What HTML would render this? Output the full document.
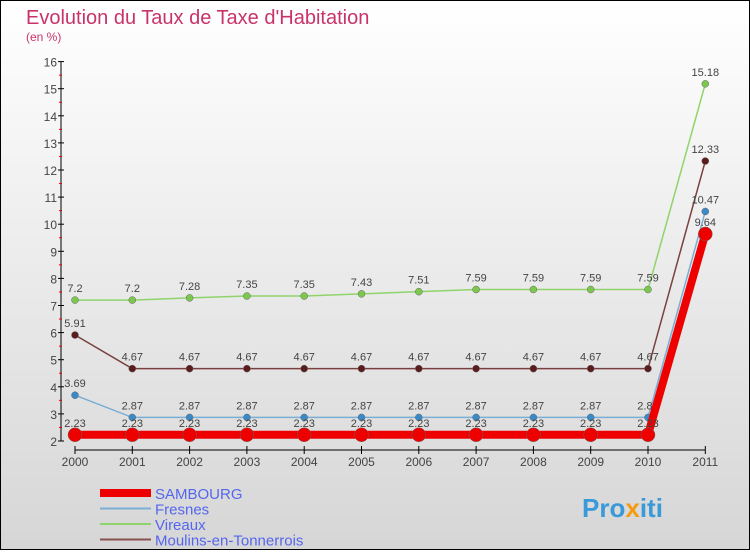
<!DOCTYPE html>
<html><head><meta charset="utf-8"><style>
body{margin:0}
#c{width:750px;height:550px;position:relative;font-family:"Liberation Sans",sans-serif;}
</style></head><body>
<div id="c">
<svg width="750" height="550" xmlns="http://www.w3.org/2000/svg" id="svg">
<defs><linearGradient id="bg" x1="0" y1="0" x2="0" y2="1"><stop offset="0" stop-color="#ffffff"/><stop offset="1" stop-color="#d6d6d6"/></linearGradient></defs>
<rect x="0.5" y="0.5" width="749" height="549" fill="url(#bg)" stroke="#000"/>
<text x="26" y="24" font-size="20" fill="#c8336a">Evolution du Taux de Taxe d'Habitation</text>
<text x="26" y="41" font-size="12" fill="#c8336a">(en %)</text>
<g id="axes"></g><g id="series"></g><g id="legend"></g>
<text x="582" y="517" font-size="26" font-weight="bold" fill="#3a9ad9">Pro<tspan fill="#f39c12">x</tspan>iti</text>
</svg>
</div>
<script>
const years=["2000","2001","2002","2003","2004","2005","2006","2007","2008","2009","2010","2011"];
const yTicks=[2,3,4,5,6,7,8,9,10,11,12,13,14,15,16];
const sambourg=[2.23,2.23,2.23,2.23,2.23,2.23,2.23,2.23,2.23,2.23,2.23,9.64];
const fresnes=[3.69,2.87,2.87,2.87,2.87,2.87,2.87,2.87,2.87,2.87,2.87,10.47];
const vireaux=[7.2,7.2,7.28,7.35,7.35,7.43,7.51,7.59,7.59,7.59,7.59,15.18];
const moulins=[5.91,4.67,4.67,4.67,4.67,4.67,4.67,4.67,4.67,4.67,4.67,12.33];
const NS="http://www.w3.org/2000/svg";
const X=i=>75+i*57.3, Y=v=>441-(v-2)*27.1;
function mk(t,a,p){const e=document.createElementNS(NS,t);for(const k in a)e.setAttribute(k,a[k]);p.appendChild(e);return e;}
const ax=document.getElementById('axes');
let yl=mk('line',{x1:61,y1:Y(16),x2:61,y2:Y(2),stroke:'#000'},ax);


yTicks.forEach(v=>{
 mk('line',{x1:58,y1:Y(v),x2:64,y2:Y(v),stroke:'#000'},ax);
 if(v<16)mk('line',{x1:59,y1:Y(v+0.5),x2:62,y2:Y(v+0.5),stroke:'#e00'},ax);
 const t=mk('text',{x:57,y:Y(v)+5,'text-anchor':'end','font-size':12,fill:'#444'},ax);t.textContent=v;
 
 
});
let xl=mk('line',{x1:X(0),y1:450,x2:X(11),y2:450,stroke:'#000'},ax);


years.forEach((y,i)=>{
 mk('line',{x1:X(i),y1:446,x2:X(i),y2:454,stroke:'#000'},ax);
 const t=mk('text',{x:X(i),y:466,'text-anchor':'middle','font-size':12,fill:'#444'},ax);t.textContent=y;
 
 
});
const sg=document.getElementById('series');
function series(data,color,dot,w,r,name){
 const g=mk('g',{},sg);
 
 
 mk('polyline',{points:data.map((v,i)=>X(i)+','+Y(v)).join(' '),fill:'none',stroke:color,'stroke-width':w},g);
 data.forEach((v,i)=>{
  const c=mk('circle',{cx:X(i),cy:Y(v),r:r,fill:dot,stroke:'#666','stroke-width':0.5},g);
  
  
  const t=mk('text',{x:X(i),y:Y(v)-8,'text-anchor':'middle','font-size':11,fill:'#444'},g);t.textContent=v;
  
  
 });
}
series(vireaux,'#8fd46a','#7cc84e',1.5,3.5,'vireaux');
series(moulins,'#7a4040','#5a1c1c',1.5,3.5,'moulins');
series(fresnes,'#7aaed6','#3b8ac8',1.5,3.5,'fresnes');
series(sambourg,'#ee0000','#ee0000',8,7,'sambourg');
const lg=document.getElementById('legend');
[["SAMBOURG","#ee0000",8],["Fresnes","#7aaed6",2],["Vireaux","#8fd46a",2],["Moulins-en-Tonnerrois","#8a5050",2]].forEach((e,i)=>{
 const y=493+i*15.5;
 const g=mk('g',{},lg);
 
 
 mk('line',{x1:100,y1:y,x2:151,y2:y,stroke:e[1],'stroke-width':e[2]},g);
 const t=mk('text',{x:155,y:y+6,'font-size':15,fill:'#5566ee'},g);t.textContent=e[0];
});
</script>
</body></html>
